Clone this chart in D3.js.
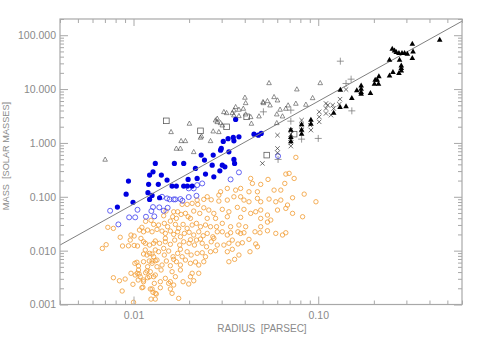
<!DOCTYPE html>
<html><head><meta charset="utf-8">
<script src="https://cdn.jsdelivr.net/npm/d3@7"></script>
<style>
body{margin:0;background:#fff}
svg{display:block}
text{font-family:"Liberation Sans",Arial,Helvetica,sans-serif}
</style>
</head><body>
<svg id="c" width="480" height="343"></svg>
<script>
// ---- data: [radius (pc), mass (Msun)] ----
const orangeOpen = [
[0.00726,0.0271],[0.00778,0.0259],[0.00847,0.0177],[0.00969,0.0195],[0.01008,0.0187],[0.01077,0.0241],[0.0111,0.0271],[0.01163,0.035],[0.01244,0.0365],[0.01285,0.0307],
[0.00678,0.011],[0.00711,0.0129],[0.00872,0.0122],[0.00939,0.0123],[0.0096,0.0157],[0.01008,0.0125],[0.01051,0.0122],[0.01097,0.0169],[0.01158,0.0137],[0.01133,0.00865],
[0.01183,0.00829],[0.0126,0.00865],[0.01312,0.0103],[0.01285,0.0137],[0.01017,0.00582],[0.01043,0.00608],[0.01064,0.00519],[0.01217,0.00642],[0.0126,0.00642],[0.01312,0.0065],
[0.0134,0.00503],[0.00969,0.0038],[0.01047,0.0038],[0.01073,0.00368],[0.01163,0.00389],[0.01183,0.00419],[0.01222,0.00328],[0.01312,0.00353],[0.0106,0.00285],[0.01133,0.00285],
[0.01192,0.00314],[0.01296,0.00247],[0.00901,0.00297],[0.00839,0.00276],[0.00778,0.00314],[0.00993,0.00237],[0.00868,0.00178],[0.01124,0.00209],[0.01233,0.00194],[0.01275,0.00168],
[0.01329,0.00157],[0.01244,0.00126],[0.01312,0.00126],[0.01,0.0011],
[0.02506,0.1001],[0.01833,0.0723],[0.01951,0.0723],[0.02077,0.0754],[0.02227,0.0723],[0.02401,0.0625],[0.02634,0.088],[0.02897,0.0832],[0.015,0.0543],[0.0165,0.0527],
[0.01734,0.0527],[0.0181,0.0471],[0.0191,0.0492],[0.01975,0.0426],[0.02118,0.0543],[0.02283,0.0492],[0.02556,0.0567],[0.02721,0.0492],[0.01456,0.0444],[0.01629,0.0426],
[0.01706,0.0397],[0.02033,0.0397],[0.02506,0.0397],[0.0278,0.0397],[0.01367,0.0299],[0.01468,0.0321],[0.0153,0.0278],[0.01583,0.0354],[0.01685,0.0307],[0.01756,0.0259],
[0.01855,0.0307],[0.01951,0.0259],[0.02077,0.0299],[0.02191,0.0321],[0.02304,0.0278],[0.02453,0.0299],[0.02611,0.0278],[0.02815,0.0278],[0.01133,0.0224],[0.01192,0.0241],
[0.0126,0.0224],[0.0134,0.0248],[0.01427,0.0231],[0.01487,0.0209],[0.01583,0.0231],[0.0165,0.02],[0.01734,0.0224],[0.01794,0.0181],[0.01885,0.0209],[0.02,0.0219],
[0.02118,0.0195],[0.02255,0.0224],[0.02382,0.0189],[0.02506,0.0209],[0.02687,0.0181],[0.0284,0.0224],
[0.01133,0.0146],[0.01222,0.0127],[0.01312,0.0151],[0.01384,0.0137],[0.01487,0.0146],[0.01583,0.0131],[0.01671,0.0157],[0.01778,0.0127],[0.01869,0.0146],[0.02,0.0137],
[0.02137,0.0127],[0.02191,0.0157],[0.02354,0.0137],[0.02484,0.0118],[0.02634,0.0146],[0.0284,0.0127],
[0.01158,0.0103],[0.01222,0.00891],[0.01285,0.00771],[0.01367,0.00955],[0.01468,0.00829],[0.0155,0.00984],[0.01637,0.00771],[0.01734,0.00891],[0.01833,0.00771],[0.01951,0.00955],
[0.02051,0.00829],[0.0221,0.00891],[0.02453,0.00771],[0.02611,0.00955],
[0.01133,0.00623],[0.01192,0.00503],[0.0126,0.00582],[0.0134,0.00669],[0.01427,0.00541],[0.01506,0.00642],[0.01583,0.00525],[0.01706,0.00623],[0.01794,0.00541],[0.0191,0.00669],
[0.02033,0.00582],[0.02255,0.00541],[0.02401,0.00623],
[0.01064,0.00437],[0.01233,0.00407],[0.0141,0.00437],[0.01617,0.00407],[0.01794,0.00437],[0.02077,0.0038],[0.02255,0.0038],
[0.01021,0.00353],[0.01087,0.00328],[0.01133,0.00265],[0.01285,0.00328],[0.01397,0.00265],[0.01487,0.00306],[0.01583,0.00265],[0.01685,0.00328],[0.01855,0.00265],[0.02033,0.00328],
[0.0111,0.00205],[0.0126,0.00194],[0.01397,0.00205],[0.01583,0.00194],[0.0165,0.0023],[0.01312,0.00161],[0.01617,0.00161],
[0.03024,0.0224],[0.03354,0.0215],[0.03675,0.0224],[0.03961,0.0215],[0.04545,0.0224],[0.04838,0.0215],[0.05309,0.0234],[0.06405,0.0195],
[0.01487,0.0169],[0.02033,0.0159],[0.02304,0.0164],[0.02721,0.0169],[0.03084,0.0127],[0.03283,0.0137],[0.03426,0.0157],[0.03675,0.0133],[0.03883,0.014],[0.04217,0.0162],[0.04586,0.0133],[0.04685,0.0118],
[0.01456,0.011],[0.01794,0.0106],[0.02354,0.00914],[0.0278,0.00996],[0.03219,0.00955],[0.03426,0.0106],[0.03721,0.00829],[0.0427,0.00955],
[0.0165,0.00689],[0.02164,0.00615],[0.03283,0.00623],[0.03525,0.00689],
[0.02118,0.00276],[0.0155,0.00247],[0.01756,0.0013],[0.0199,0.0024],
[0.07565,0.539],[0.06955,0.272],[0.07405,0.219],[0.06675,0.264],[0.0659,0.177],[0.05348,0.21],[0.04308,0.219],[0.04401,0.177],[0.04882,0.17],[0.05765,0.133],
[0.0627,0.133],[0.04685,0.124],[0.04217,0.124],[0.03801,0.143],[0.03571,0.133],[0.03219,0.143],[0.0296,0.124],[0.02897,0.1075],[0.03219,0.0869],[0.03495,0.1],
[0.03801,0.1],[0.03961,0.0869],[0.04217,0.0808],[0.04685,0.0934],[0.04882,0.0808],[0.05415,0.0907],[0.0589,0.0808],[0.0627,0.0869],[0.07259,0.0959],[0.08392,0.112],
[0.09716,0.0808],[0.06818,0.0702],[0.02401,0.0895],[0.0221,0.0869],
[0.03024,0.0584],[0.03283,0.0527],[0.03648,0.0636],[0.03961,0.0584],[0.04308,0.0492],[0.04586,0.0527],[0.04882,0.0567],[0.05309,0.0458],[0.06017,0.0567],[0.06675,0.0609],
[0.07259,0.0492],[0.08227,0.0426],[0.05533,0.037],[0.04882,0.0397],[0.03801,0.0415],[0.03219,0.0426],[0.03024,0.0321],[0.03354,0.0278],[0.03721,0.0299],[0.04047,0.0278],
[0.04882,0.0278],[0.05309,0.0339],[0.0589,0.0209],[0.06675,0.0215],[0.03801,0.0209],[0.03219,0.0195]
];
const blueFilled = [
[0.00818,0.0644],[0.00912,0.112],[0.00939,0.196],[0.00994,0.0788],[0.01197,0.119],[0.0126,0.106],[0.01222,0.0895],[0.01384,0.0959],[0.01207,0.17],[0.01362,0.17],
[0.01222,0.253],[0.01275,0.291],[0.01312,0.417],[0.01415,0.253],[0.01519,0.204],[0.01617,0.158],[0.01706,0.158],[0.01664,0.417],[0.01869,0.417],[0.01869,0.158],
[0.01958,0.158],[0.01975,0.21],[0.02077,0.158],[0.02164,0.336],[0.0221,0.219],[0.02325,0.594],[0.02422,0.48],[0.02453,0.264],[0.02667,0.387],[0.027,0.594],
[0.02721,0.235],[0.02933,0.304],[0.0296,0.735],[0.03024,0.387],[0.03123,0.36],[0.03061,1.066],[0.0325,1.2],[0.03283,0.684],[0.03468,1.266],[0.03495,0.494],
[0.03525,0.417],[0.03721,1.298],[0.03495,1.094],[0.03571,2.73],[0.04489,1.456],[0.04742,1.395],[0.04913,1.5],[0.02987,0.79]
];
const blueOpen = [
[0.00747,0.055],[0.00828,0.0307],[0.00947,0.0415],[0.01021,0.0415],[0.01051,0.0574],[0.01168,0.0426],[0.01249,0.0543],[0.01275,0.0644],[0.01296,0.0433],[0.01379,0.0636],
[0.01456,0.055],[0.0153,0.0625],[0.01569,0.0895],[0.01685,0.0895],[0.01794,0.0907],[0.01839,0.0843],[0.0199,0.0988],[0.02191,0.1044],[0.0199,0.143],[0.02118,0.143],
[0.0221,0.165],[0.02354,0.177],[0.03354,0.21],[0.03721,0.284],[0.06061,0.569],[0.01427,0.1],[0.01519,0.0934],[0.0165,0.0895]
];
const openTriangles = [
[0.00702,0.494],[0.01597,1.607],[0.0181,1.094],[0.0191,1.094],[0.01706,0.79],[0.01794,0.79],[0.02118,0.684],[0.02007,2.3],[0.02304,1.266],[0.02611,1.094],
[0.027,1.655],[0.02897,1.607],[0.0278,2.649],[0.0284,2.848],[0.0284,2.464],[0.0296,2.359],[0.03024,2.139],[0.03084,3.779],[0.03191,3.618],[0.03426,3.618],
[0.03495,4.06],[0.03721,4.184],[0.0393,4.364],[0.03495,3.28],[0.03721,3.185],[0.0401,6.99],[0.04047,5.545],[0.04047,3.423],[0.04308,3.052],[0.04347,2.3],
[0.04779,3.143],[0.05048,5.545],[0.05309,6.04],[0.05415,13.03],[0.05765,7.17],[0.06017,6.224],[0.06214,4.184],[0.06675,4.364],[0.06869,5.027],[0.07565,5.404],
[0.0766,9.958],[0.08574,5.18],[0.09323,6.866],[0.1025,13.03],[0.05964,3.423],[0.06405,3.143],[0.05964,2.359],[0.05483,5.027],[0.05024,5.79],[0.02333,1.337],[0.03571,4.678]
];
const openSquares = [
[0.01506,2.572],[0.02304,1.677],[0.03191,1.99],[0.04098,3.052],[0.05263,0.594],[0.07405,1.456]
];
const crosses = [
[0.06017,1.395],[0.06017,0.79],[0.04987,0.417],[0.06017,0.655],[0.07106,1.728],[0.07106,1.456],[0.07106,1.212],[0.07106,1.004],[0.07106,0.873],[0.08126,2.649],
[0.08126,2.139],[0.08126,1.728],[0.09046,2.139],[0.09127,1.728],[0.1012,3.779],[0.1012,3.052],[0.1012,2.464],[0.1101,5.404],[0.1101,4.364],[0.1101,3.526],
[0.1197,5.027],[0.1212,4.364],[0.13,5.247],[0.1312,6.496],[0.1414,9.83],[0.1125,5.027],[0.1172,3.28]
];
const pluses = [
[0.05048,3.779],[0.06061,0.494],[0.1,1.212],[0.07106,4.06],[0.07106,2.538],[0.08126,1.176],[0.1317,32.94],[0.1506,15.27],[0.1414,12.7],[0.152,3.94]
];
const filledTriangles = [
[0.1317,9.83],[0.1312,4.678],[0.1414,4.817],[0.1212,3.683],[0.152,6.866],[0.1617,9.541],[0.1707,11.81],[0.1707,10.26],[0.1707,8.877],[0.1707,8.284],
[0.1917,8.5],[0.2015,12.7],[0.2119,12.7],[0.2085,15.09],[0.2129,17.36],[0.2033,15.09],[0.2431,18.11],[0.2537,20.86],[0.2734,19.98],[0.2815,27.76],
[0.2815,24.73],[0.2815,22.42],[0.2755,35.4],[0.2431,35.4],[0.2515,56.64],[0.2588,52.69],[0.2644,49.03],[0.2734,46.95],[0.284,46.95],[0.2933,46.95],
[0.3035,45.75],[0.323,70.12],[0.3259,50.5],[0.323,37.91],[0.4545,83.2],[0.09127,2.3],[0.09127,2.729],[0.08126,2.233],[0.08126,1.78],[0.08126,1.5],
[0.07106,1.78],[0.07106,1.298],[0.07106,1.08]
];
// fitted relation (end points)
const fitRadius = [0.004, 0.6];
const fitMass = [0.0127, 182];

// axes
const xDomain = [0.004, 0.6];
const yDomain = [0.001, 200];
const xMajor = [0.01, 0.1];
const xMajorLabels = ["0.01", "0.10"];
const yMajor = [0.001, 0.01, 0.1, 1, 10, 100];
const yMajorLabels = ["0.001", "0.010", "0.100", "1.000", "10.000", "100.000"];
const xTitle = "RADIUS  [PARSEC]";
const yTitle = "MASS  [SOLAR MASSES]";

// ---- drawing ----
const svg = d3.select('#c');
const L = 60, Rr = 462, T = 19, B = 304.5;
const x = d3.scaleLog().domain(xDomain).range([L, Rr]);
const y = d3.scaleLog().domain(yDomain).range([B, T]);

function minors(dom) {
  const out = [];
  for (let e = -4; e <= 3; e++) {
    const d = Math.pow(10, e);
    for (let m = 2; m <= 9; m++) {
      const v = +(m * d).toPrecision(6);
      if (v >= dom[0] * 0.999 && v <= dom[1] * 1.001) out.push(v);
    }
  }
  return out;
}
const xMinor = minors(xDomain), yMinor = minors(yDomain);

const axisCol = "#a8a8a8", textCol = "#8a8a8a";

const g = svg.append('g');

g.selectAll('circle.or').data(orangeOpen).join('circle')
  .attr('cx', d => x(d[0])).attr('cy', d => y(d[1])).attr('r', 2.2)
  .attr('fill', 'none').attr('stroke', '#f2a03c').attr('stroke-width', 0.85);

g.append('g').selectAll('circle').data(blueOpen).join('circle')
  .attr('cx', d => x(d[0])).attr('cy', d => y(d[1])).attr('r', 2.5)
  .attr('fill', 'none').attr('stroke', '#4848f0').attr('stroke-width', 0.85);

g.append('g').selectAll('circle').data(blueFilled).join('circle')
  .attr('cx', d => x(d[0])).attr('cy', d => y(d[1])).attr('r', 2.6)
  .attr('fill', '#0000e0');

g.append('path')
  .attr('d', d3.line().x(d => x(d[0])).y(d => y(d[1]))(fitRadius.map((r, i) => [r, fitMass[i]])))
  .attr('stroke', '#808080').attr('stroke-width', 1).attr('fill', 'none');

g.append('g').selectAll('path').data(openTriangles).join('path')
  .attr('transform', d => `translate(${x(d[0])},${y(d[1])})`)
  .attr('d', 'M-2.3,1.8L2.3,1.8L0,-2.4Z')
  .attr('fill', 'none').attr('stroke', '#444').attr('stroke-width', 0.6);

g.append('g').selectAll('rect').data(openSquares).join('rect')
  .attr('x', d => x(d[0]) - 2.8).attr('y', d => y(d[1]) - 2.8)
  .attr('width', 5.6).attr('height', 5.6)
  .attr('fill', 'none').attr('stroke', '#555').attr('stroke-width', 0.75);

g.append('g').selectAll('path').data(crosses).join('path')
  .attr('transform', d => `translate(${x(d[0])},${y(d[1])})`)
  .attr('d', 'M-2.2,-2.2L2.2,2.2M-2.2,2.2L2.2,-2.2')
  .attr('stroke', '#333').attr('stroke-width', 0.7);

g.append('g').selectAll('path').data(pluses).join('path')
  .attr('transform', d => `translate(${x(d[0])},${y(d[1])})`)
  .attr('d', 'M-3.5,0H3.5M0,-3.5V3.5')
  .attr('stroke', '#777').attr('stroke-width', 0.75);

g.append('g').selectAll('path').data(filledTriangles).join('path')
  .attr('transform', d => `translate(${x(d[0])},${y(d[1])})`)
  .attr('d', 'M-2.8,2.2L2.8,2.2L0,-2.8Z')
  .attr('fill', '#000');

// frame
svg.append('rect').attr('x', L).attr('y', T).attr('width', Rr - L).attr('height', B - T)
  .attr('fill', 'none').attr('stroke', axisCol).attr('stroke-width', 1.2);

function styleAxis(sel) {
  sel.select('.domain').remove();
  sel.selectAll('.tick line').attr('stroke', axisCol).attr('stroke-width', 1);
  sel.selectAll('text').attr('fill', textCol).style('font-size', '10.5px');
}
// left
svg.append('g').attr('transform', `translate(${L},0)`)
  .call(d3.axisLeft(y).tickValues(yMajor).tickSize(-8).tickPadding(4)
    .tickFormat((d, i) => yMajorLabels[i])).call(styleAxis);
svg.append('g').attr('transform', `translate(${L},0)`)
  .call(d3.axisLeft(y).tickValues(yMinor).tickSize(-4).tickFormat('')).call(styleAxis);
// right
svg.append('g').attr('transform', `translate(${Rr},0)`)
  .call(d3.axisRight(y).tickValues(yMajor).tickSize(-8).tickFormat('')).call(styleAxis);
svg.append('g').attr('transform', `translate(${Rr},0)`)
  .call(d3.axisRight(y).tickValues(yMinor).tickSize(-4).tickFormat('')).call(styleAxis);
// bottom
svg.append('g').attr('transform', `translate(0,${B})`)
  .call(d3.axisBottom(x).tickValues(xMajor).tickSize(-8).tickPadding(7)
    .tickFormat((d, i) => xMajorLabels[i])).call(styleAxis);
svg.append('g').attr('transform', `translate(0,${B})`)
  .call(d3.axisBottom(x).tickValues(xMinor).tickSize(-4).tickFormat('')).call(styleAxis);
// top
svg.append('g').attr('transform', `translate(0,${T})`)
  .call(d3.axisTop(x).tickValues(xMajor).tickSize(-7).tickFormat('')).call(styleAxis);
svg.append('g').attr('transform', `translate(0,${T})`)
  .call(d3.axisTop(x).tickValues(xMinor).tickSize(-4).tickFormat('')).call(styleAxis);

// titles
svg.append('text').attr('x', (L + Rr) / 2 + 1).attr('y', 332).attr('text-anchor', 'middle')
  .attr('fill', textCol).style('font-size', '10px').style('white-space', 'pre').text(xTitle);
svg.append('text').attr('transform', 'translate(8.5,156) rotate(-90)').attr('text-anchor', 'middle')
  .attr('fill', textCol).style('font-size', '9.2px').style('white-space', 'pre').text(yTitle);
</script>
</body></html>
